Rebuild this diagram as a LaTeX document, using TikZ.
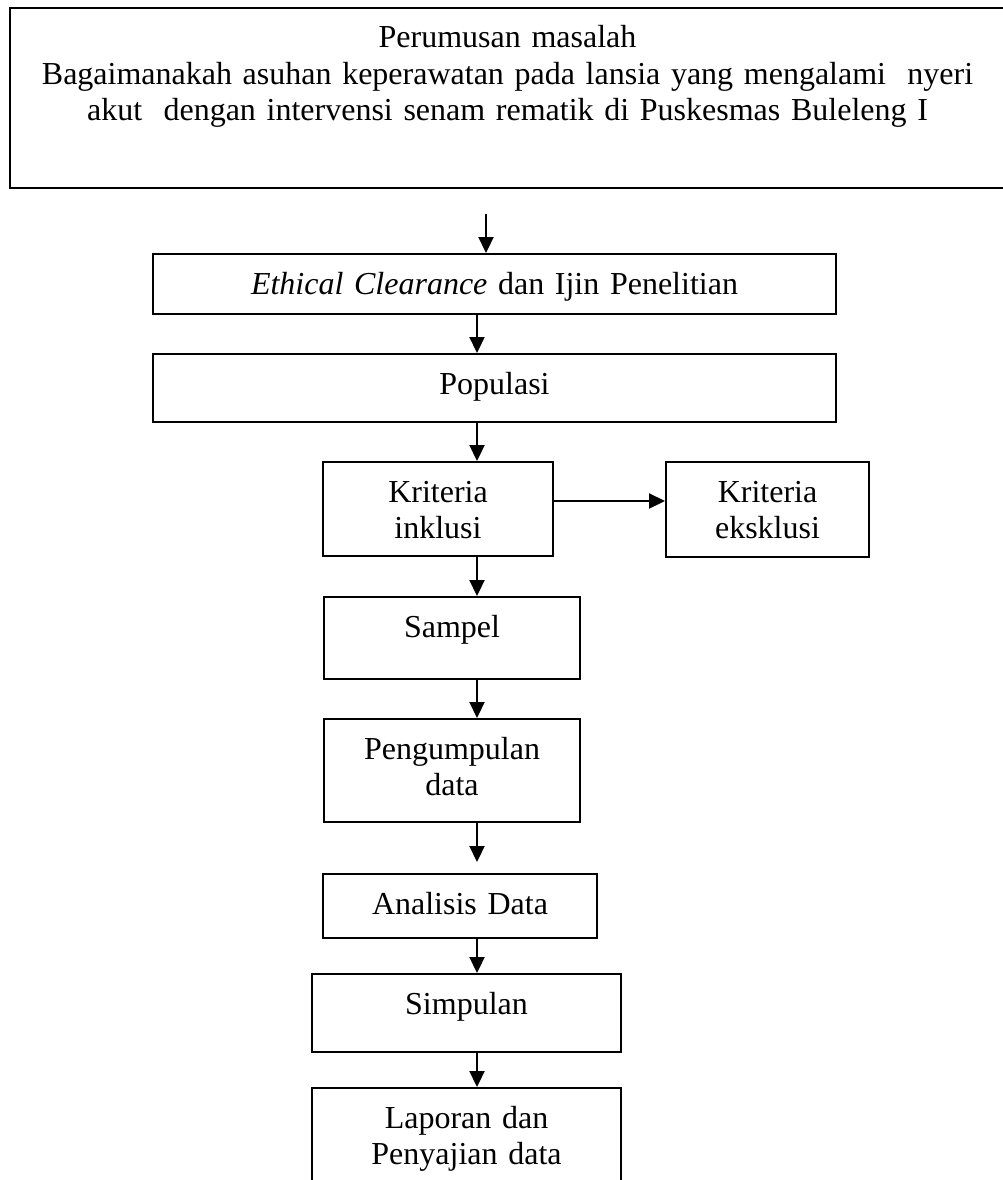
\documentclass[tikz,border=0pt]{standalone}
\usepackage{fontspec}
\setmainfont{Liberation Serif}
\usetikzlibrary{calc,arrows.meta}
\begin{document}
\begin{tikzpicture}[x=1pt,y=-1pt,font=\fontsize{32}{36.5}\selectfont]
  \tikzstyle{box}=[draw=black,line width=2pt,anchor=north,inner sep=0pt,align=center,text height=40pt]
  \tikzstyle{arr}=[line width=2.2pt,-{Triangle[width=15pt,length=16pt]}]
  \useasboundingbox (0,0) rectangle (1003,1180);
  \node[box,text width=995pt,text depth=140pt] (masalah) at (507.5,7) {Perumusan masalah\\ Bagaimanakah asuhan keperawatan pada lansia yang mengalami~ nyeri\\ akut~ dengan intervensi senam rematik di Puskesmas Buleleng I};
  \node[box,text width=683pt,text depth=20pt] (ethic) at (494.5,253) {\textit{Ethical Clearance} dan Ijin Penelitian};
  \node[box,text width=683pt,text depth=28pt] (pop) at (494.5,353) {Populasi};
  \node[box,text width=230pt,text depth=54pt] (inkl) at (438,461) {Kriteria\\ inklusi};
  \node[box,text width=203pt,text depth=55pt] (eksk) at (767.5,461) {Kriteria\\ eksklusi};
  \node[box,text width=256pt,text depth=42pt] (sampel) at (452,596) {Sampel};
  \node[box,text width=256pt,text depth=63pt] (kumpul) at (452,718) {Pengumpulan\\ data};
  \node[box,text width=274pt,text depth=24pt] (analisis) at (460,873) {Analisis Data};
  \node[box,text width=309pt,text depth=38pt] (simpulan) at (466.5,973) {Simpulan};
  \node[box,text width=309pt,text depth=80pt] (laporan) at (466.5,1087) {Laporan dan\\ Penyajian data};
  \coordinate (axis) at (477,0);
  \coordinate (start) at (486,214);
  \coordinate (tip) at (477,862);
  \draw[arr] (start) -- (start |- ethic.north);
  \draw[arr] (ethic.south -| axis) -- (pop.north -| axis);
  \draw[arr] (pop.south -| axis) -- (inkl.north -| axis);
  \draw[arr] ([yshift=8pt]inkl.east) -- ([yshift=8pt]inkl.east -| eksk.west);
  \draw[arr] (inkl.south -| axis) -- (sampel.north -| axis);
  \draw[arr] (sampel.south -| axis) -- (kumpul.north -| axis);
  \draw[arr] (kumpul.south -| axis) -- (tip);
  \draw[arr] (analisis.south -| axis) -- (simpulan.north -| axis);
  \draw[arr] (simpulan.south -| axis) -- (laporan.north -| axis);
\end{tikzpicture}
\end{document}
